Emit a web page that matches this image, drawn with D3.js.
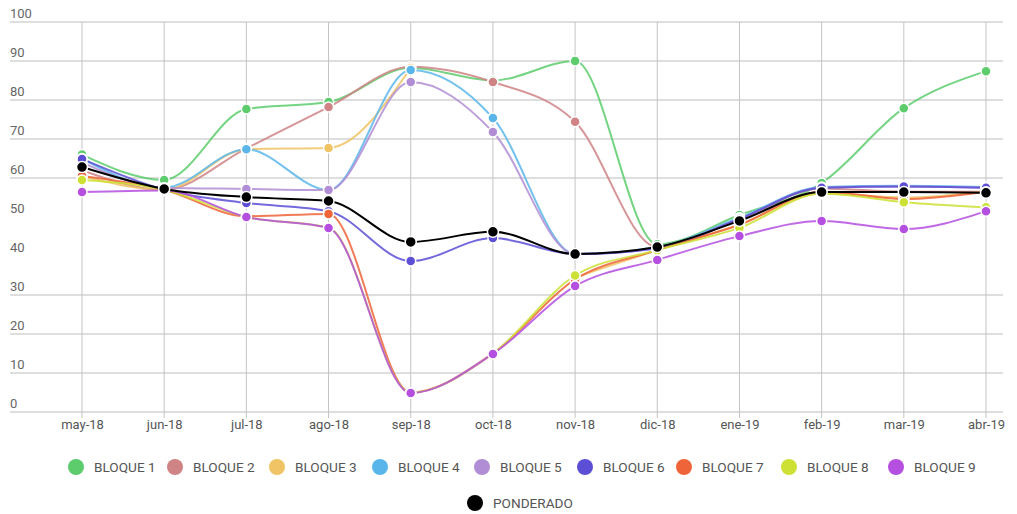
<!DOCTYPE html>
<html>
<head>
<meta charset="utf-8">
<script src="https://cdn.jsdelivr.net/npm/d3@7/dist/d3.min.js"></script>
<style>
  html, body { margin: 0; padding: 0; background: #fff; }
  svg { display: block; font-family: Roboto, "Noto Sans", sans-serif; }
</style>
</head>
<body>
<svg id="chart" width="1017" height="514"></svg>
<script>
// Months on the x axis
const months = ["may-18","jun-18","jul-18","ago-18","sep-18","oct-18","nov-18","dic-18","ene-19","feb-19","mar-19","abr-19"];

// Y axis ticks and which of them carry a grid line
const yTicks = [0,10,20,30,40,50,60,70,80,90,100];
const gridValues = [0,10,20,30,60,70,80,90,100];

// Series values (null = no reading for that month)
const bloque1 = [66, 59.5, 77.7, 79.5, 88.3, 85, 90, 43, 50.5, 58.7, 77.9, 87.4];
const bloque2 = [62, 57, 67.6, 78.2, 88.5, 84.6, 74.4, 42.3, 49.5, 57.3, 56.5, 56.5];
const bloque3 = [60.5, 57, 67.4, 67.7, 88.2, null, 34.5, 41.5, 48, 56, 55, 56.5];
const bloque4 = [65, 57.5, 67.4, 56.9, 87.7, 75.4, 40.5, 42.3, 49.8, 57.7, 58, 57.7];
const bloque5 = [64, 57.5, 57.2, 56.9, 84.6, 71.8, 40.5, 42, 49.5, 57.5, 57.8, 57.5];
const bloque6 = [64.9, 57, 53.6, 51.5, 38.7, 44.6, 40.5, 42, 49.5, 57.5, 57.8, 57.5];
const bloque7 = [60.5, 57, 50.2, 50.8, 5, 15, 34, 41.5, 48, 56.5, 54.6, 56.5];
const bloque8 = [59.5, 57, 50, 47.3, 5, 15, 35, 41.5, 47.2, 56, 53.8, 52.5];
const bloque9 = [56.4, 56.8, 50, 47.2, 4.9, 14.9, 32.3, 39, 45.1, 49, 46.9, 51.5];
const ponderado = [62.8, 57.2, 55.1, 54.1, 43.6, 46.2, 40.5, 42.3, 49, 56.4, 56.4, 56.2];

const seriesNames = ["BLOQUE 1","BLOQUE 2","BLOQUE 3","BLOQUE 4","BLOQUE 5","BLOQUE 6","BLOQUE 7","BLOQUE 8","BLOQUE 9","PONDERADO"];
const seriesValues = [bloque1,bloque2,bloque3,bloque4,bloque5,bloque6,bloque7,bloque8,bloque9,ponderado];
const seriesColors = ["#5ccc6c","#cf8385","#f0c365","#5ab6ea","#b08dd4","#5c4fd6","#f0643a","#cde034","#b54fe0","#000000"];

const svg = d3.select("#chart");

const x = d3.scalePoint().domain(months).range([82, 986]);
const y = d3.scaleLinear().domain([0, 100]).range([412, 22]);

// Grid
const grid = svg.append("g");
grid.selectAll("line.h").data(gridValues).join("line")
  .attr("x1", 10).attr("x2", 1003)
  .attr("y1", d => y(d)).attr("y2", d => y(d))
  .attr("stroke", "#bdbdbd").attr("stroke-width", 1);
grid.selectAll("line.v").data(months).join("line")
  .attr("x1", d => x(d)).attr("x2", d => x(d))
  .attr("y1", y(100)).attr("y2", y(0) + 6)
  .attr("stroke", "#c4c4c4").attr("stroke-width", 1);

// Y labels sit above their value line
svg.append("g").selectAll("text").data(yTicks).join("text")
  .attr("x", 10).attr("y", d => y(d) - 4)
  .attr("font-size", 13).attr("fill", "#666")
  .text(d => d);

// X axis labels
const xAxis = d3.axisBottom(x).tickSize(0).tickPadding(8);
const xg = svg.append("g").attr("transform", `translate(0,${y(0)})`).call(xAxis);
xg.select(".domain").remove();
xg.selectAll("text").attr("font-size", 13).attr("fill", "#555").attr("font-family", "Roboto, sans-serif");

// Lines
const line = d3.line()
  .defined(d => d.v !== null)
  .x(d => x(d.m)).y(d => y(d.v))
  .curve(d3.curveMonotoneX);

const series = seriesNames.map((name, i) => ({
  name, color: seriesColors[i],
  points: months.map((m, j) => ({ m, v: seriesValues[i][j] }))
}));

const lines = svg.append("g");
series.forEach(s => {
  const isP = s.name === "PONDERADO";
  lines.append("path")
    .attr("d", line(s.points))
    .attr("fill", "none")
    .attr("stroke", s.color)
    .attr("stroke-width", 2)
    .attr("stroke-opacity", isP ? 1 : 0.85);
});

// Markers
const marks = svg.append("g");
series.forEach(s => {
  const isP = s.name === "PONDERADO";
  marks.selectAll(null).data(s.points.filter(p => p.v !== null)).join("circle")
    .attr("cx", d => x(d.m)).attr("cy", d => y(d.v))
    .attr("r", isP ? 5.5 : 5)
    .attr("fill", s.color)
    .attr("stroke", "#fff").attr("stroke-width", 1.5);
});

// Legend
const legendRow1 = [76, 175, 277, 380, 482, 585, 684, 789, 896];
const legend = svg.append("g").attr("font-size", 13.6).attr("fill", "#555");
series.forEach((s, i) => {
  const cx = i < 9 ? legendRow1[i] : 475;
  const cy = i < 9 ? 467 : 503;
  legend.append("circle").attr("cx", cx).attr("cy", cy).attr("r", 8).attr("fill", s.color);
  legend.append("text").attr("x", cx + 18).attr("y", cy + 5)
    .attr("fill", "#555").text(s.name);
});
</script>
</body>
</html>
